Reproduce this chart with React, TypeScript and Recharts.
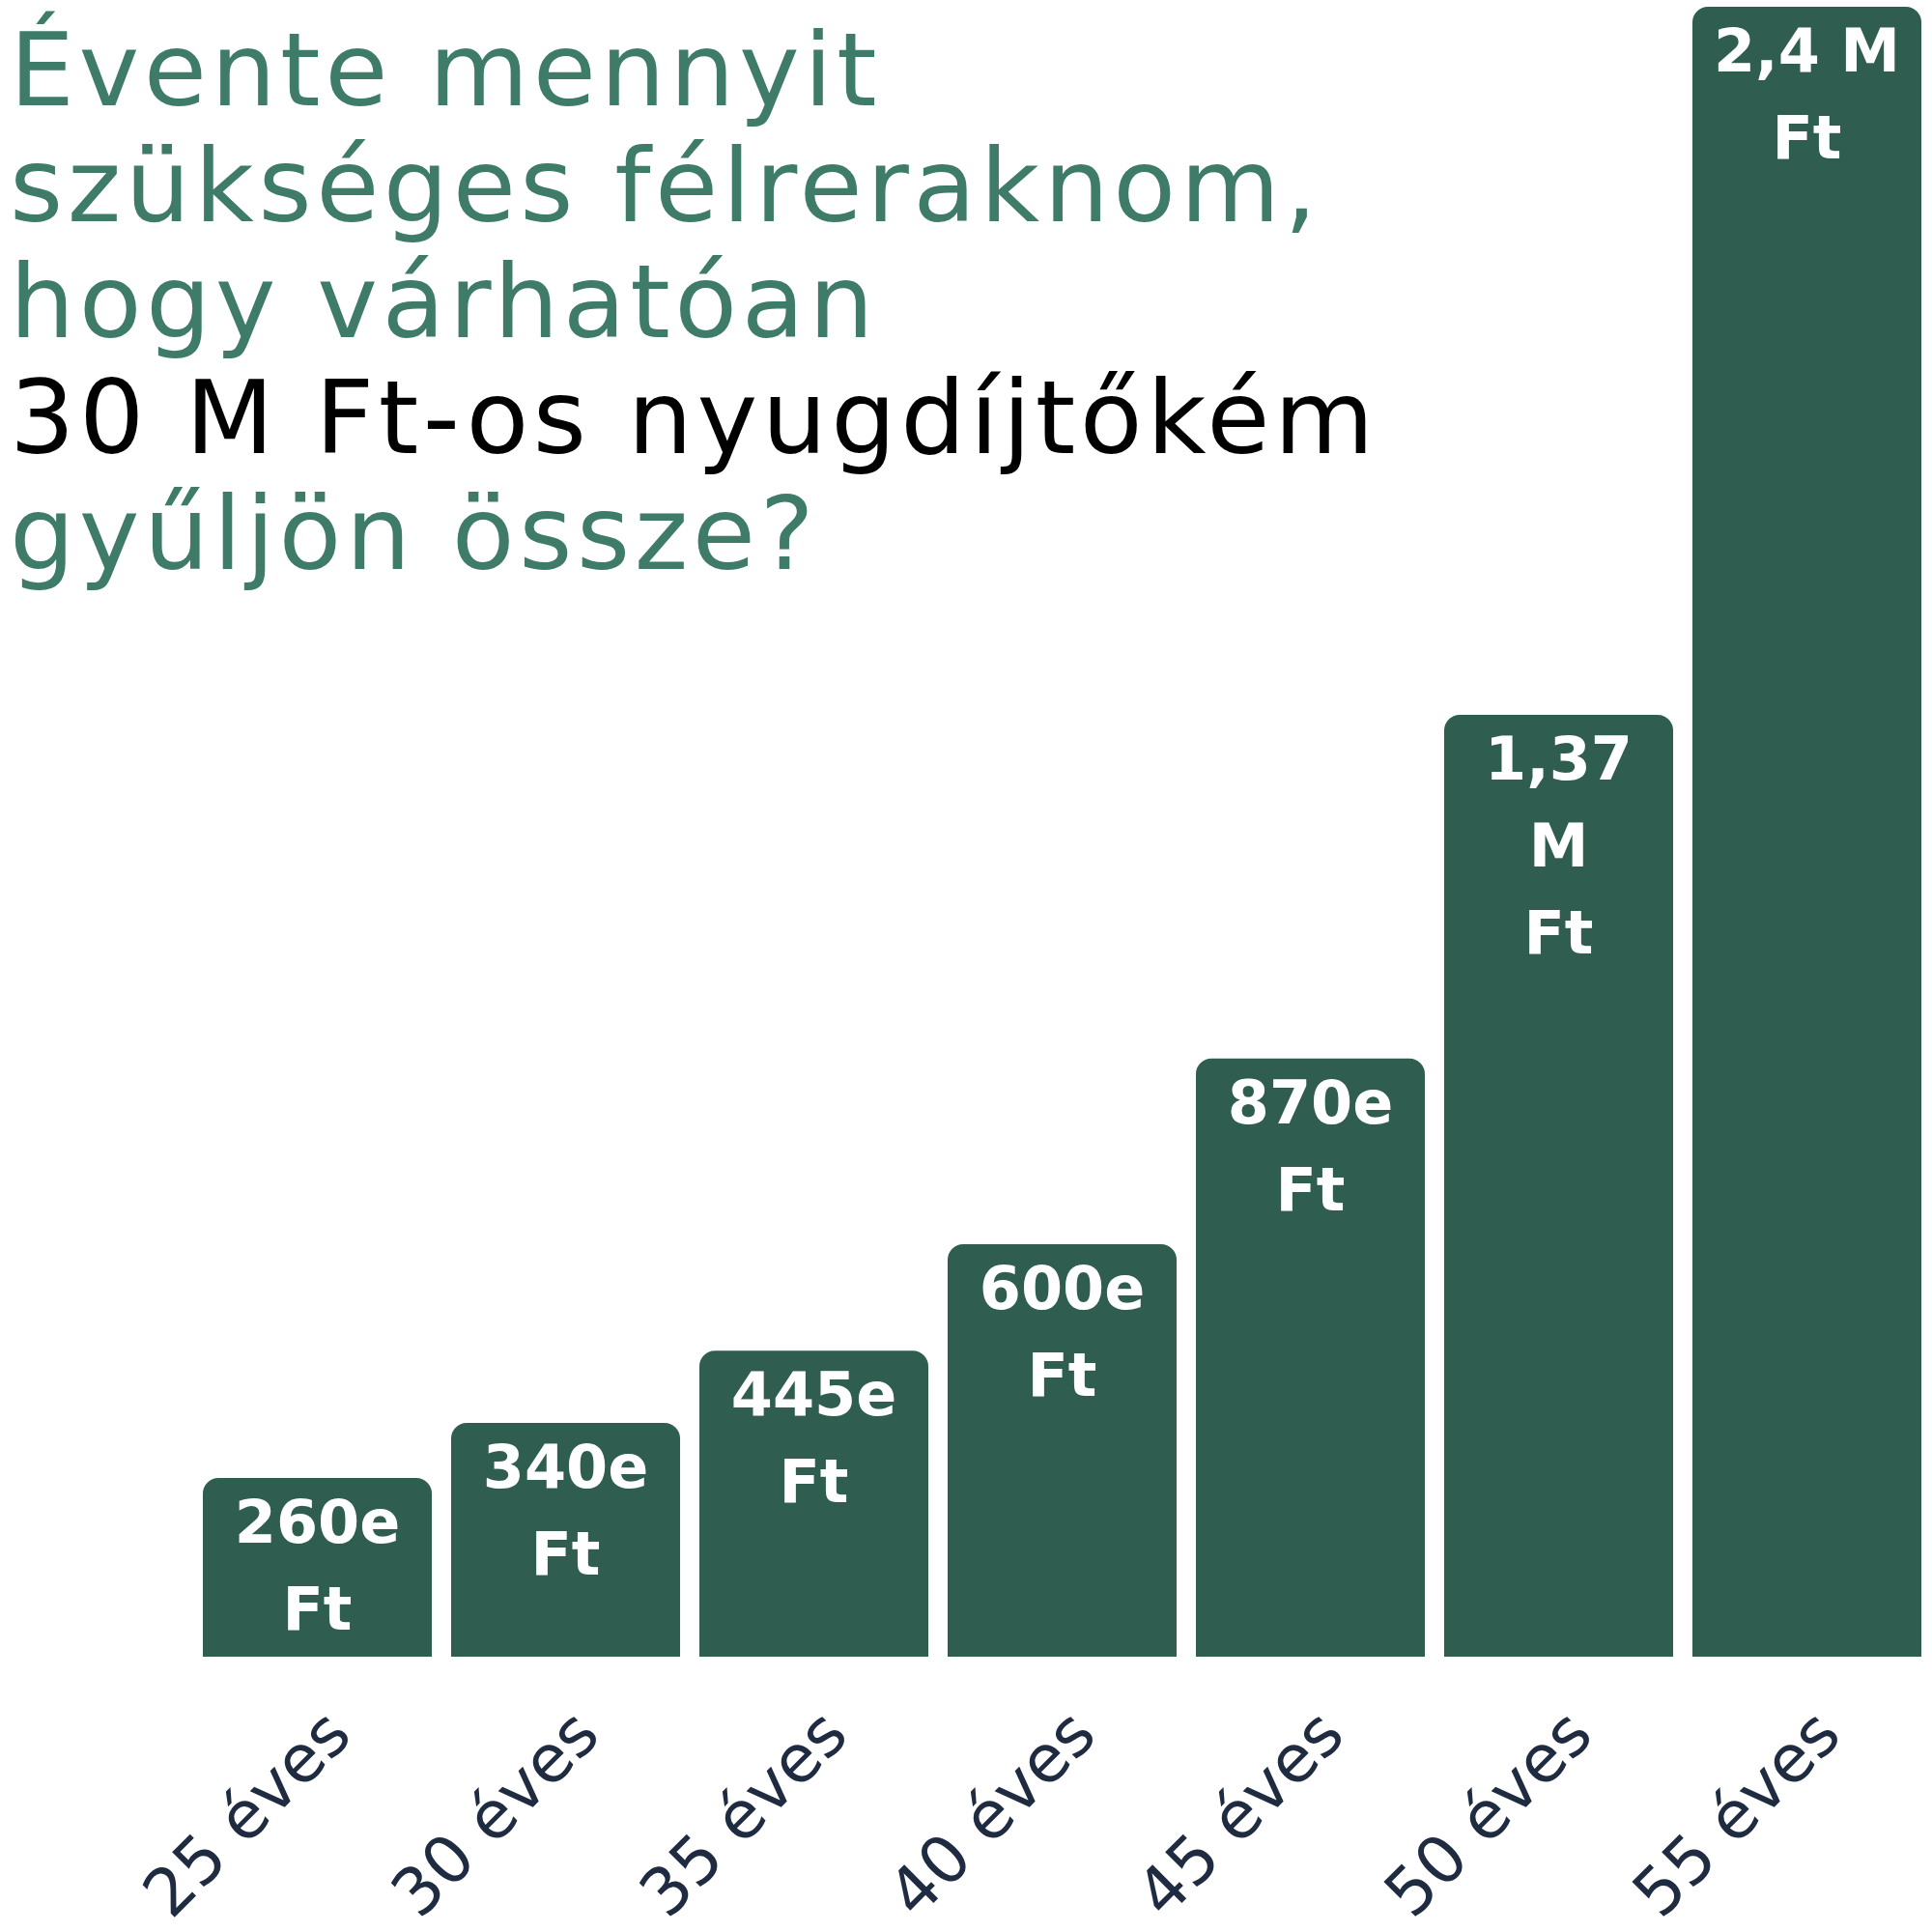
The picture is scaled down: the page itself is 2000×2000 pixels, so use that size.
import { BarChart, Bar, XAxis, YAxis, LabelList } from 'recharts';

const ages = ['25 éves', '30 éves', '35 éves', '40 éves', '45 éves', '50 éves', '55 éves'];
const savings = [260, 340, 445, 600, 870, 1370, 2400];
const savingLabels = [
  ['260e', 'Ft'],
  ['340e', 'Ft'],
  ['445e', 'Ft'],
  ['600e', 'Ft'],
  ['870e', 'Ft'],
  ['1,37', 'M', 'Ft'],
  ['2,4 M', 'Ft'],
];
const titleLines = [
  'Évente mennyit',
  'szükséges félreraknom,',
  'hogy várhatóan',
  '30 M Ft-os nyugdíjtőkém',
  'gyűljön össze?',
];
const titleColors = ['#3f7b69', '#3f7b69', '#3f7b69', '#000000', '#3f7b69'];

const FONT = '"DejaVu Sans", sans-serif';
const BAR_COLOR = '#2f5e50';

const data = ages.map((age, i) => ({ age, value: savings[i] }));

const AgeTick = ({ x, y, payload }: any) => (
  <text
    transform={`translate(${x + 38}, ${y + 84}) rotate(-45)`}
    textAnchor="end"
    fontFamily={FONT}
    fontSize={68}
    fill="#1e2b40"
  >
    {payload.value}
  </text>
);

const ValueLabel = ({ x, y, width, index }: any) => {
  const lines = savingLabels[index] || [];
  return (
    <text
      x={x + width / 2}
      y={y + 67}
      textAnchor="middle"
      fontFamily={FONT}
      fontWeight="bold"
      fontSize={62}
      fill="#ffffff"
    >
      {lines.map((line, i) => (
        <tspan key={i} x={x + width / 2} dy={i === 0 ? 0 : 90}>
          {line}
        </tspan>
      ))}
    </text>
  );
};

const App = () => {
  return (
    <div style={{ position: 'relative', width: 2000, height: 2000, background: '#ffffff' }}>
      <style>{'body { margin: 0; }'}</style>
      <BarChart
        width={2000}
        height={2000}
        data={data}
        margin={{ top: 7, right: 1, bottom: 0, left: 200 }}
        barCategoryGap={10}
      >
        <XAxis
          dataKey="age"
          height={285}
          axisLine={false}
          tickLine={false}
          tickSize={0}
          tickMargin={0}
          interval={0}
          tick={<AgeTick />}
        />
        <YAxis hide domain={[0, 2400]} />
        <Bar dataKey="value" fill={BAR_COLOR} radius={[16, 16, 0, 0]} isAnimationActive={false}>
          <LabelList dataKey="value" content={<ValueLabel />} />
        </Bar>
      </BarChart>
      <svg
        width={2000}
        height={620}
        style={{ position: 'absolute', left: 0, top: 0, pointerEvents: 'none' }}
      >
        {titleLines.map((line, i) => (
          <text
            key={i}
            x={10}
            y={109 + i * 120}
            fontFamily={FONT}
            fontSize={106}
            letterSpacing={4.5}
            fill={titleColors[i]}
          >
            {line}
          </text>
        ))}
      </svg>
    </div>
  );
};

export default App;
